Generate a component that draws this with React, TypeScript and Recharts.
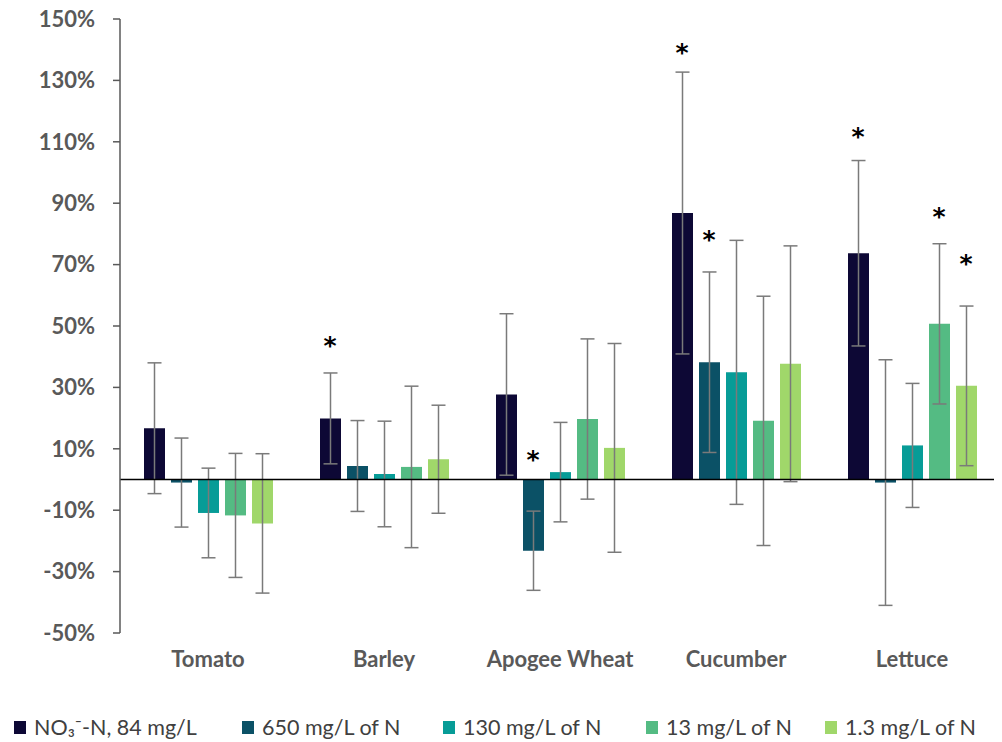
import React from 'react';
import {
  BarChart,
  Bar,
  XAxis,
  YAxis,
  ErrorBar,
  ReferenceLine,
  ReferenceDot,
  Legend,
} from 'recharts';

const CATEGORIES = ['Tomato', 'Barley', 'Apogee Wheat', 'Cucumber', 'Lettuce'];

const SERIES_NAMES = [
  'NO₃⁻-N, 84 mg/L',
  '650 mg/L of N',
  '130 mg/L of N',
  '13 mg/L of N',
  '1.3 mg/L of N',
];

const COLORS = ['#0d0835', '#0b5166', '#079c97', '#54bb83', '#a0d76a'];

// mean % change per series, in category order
const NO3_84 = [16.7, 19.9, 27.7, 86.8, 73.7];
const N_650 = [-1.0, 4.4, -23.2, 38.2, -1.0];
const N_130 = [-10.9, 1.8, 2.4, 34.9, 11.1];
const N_13 = [-11.7, 4.1, 19.7, 19.1, 50.7];
const N_1_3 = [-14.3, 6.6, 10.3, 37.7, 30.5];

// error bar half-widths
const ERR_NO3_84 = [21.3, 14.8, 26.3, 45.9, 30.2];
const ERR_650 = [14.5, 14.8, 12.9, 29.4, 40.0];
const ERR_130 = [14.6, 17.2, 16.2, 43.0, 20.2];
const ERR_13 = [20.2, 26.3, 26.1, 40.6, 26.1];
const ERR_1_3 = [22.7, 17.6, 34.0, 38.4, 26.0];

const Y_TICKS = [-50, -30, -10, 10, 30, 50, 70, 90, 110, 130, 150];

// significance markers: category, series index, height of the asterisk
const STAR_CATS = ['Barley', 'Apogee Wheat', 'Cucumber', 'Cucumber', 'Lettuce', 'Lettuce', 'Lettuce'];
const STAR_SERIES = [0, 1, 0, 1, 0, 3, 4];
const STAR_Y = [45.4, 8.3, 140.9, 79.9, 113.6, 87.5, 72.0];

const VALUES = [NO3_84, N_650, N_130, N_13, N_1_3];
const ERRORS = [ERR_NO3_84, ERR_650, ERR_130, ERR_13, ERR_1_3];

const data = CATEGORIES.map((name, i) => {
  const row: Record<string, string | number> = { name };
  VALUES.forEach((vals, s) => {
    row[`s${s}`] = vals[i];
    row[`e${s}`] = ERRORS[s][i];
  });
  return row;
});

const BAR_SIZE = 21;
const BAR_GAP = 6;
const FONT = 'Lato, "Open Sans", sans-serif';
const LEGEND_LEFT = [6, 234, 435, 638, 817]; // layout: where each legend item starts

// legend drawn in series order (recharts would sort it by name)
const renderLegend = () => (
  <div
    style={{
      position: 'relative',
      height: 30,
      fontFamily: FONT,
      fontSize: 21.5,
      color: '#404040',
      whiteSpace: 'nowrap',
    }}
  >
    {SERIES_NAMES.map((label, i) => (
      <div
        key={`leg-${i}`}
        style={{
          position: 'absolute',
          left: LEGEND_LEFT[i],
          top: 0,
          height: 30,
          display: 'flex',
          alignItems: 'center',
        }}
      >
        <span
          style={{
            display: 'inline-block',
            width: 12,
            height: 13,
            background: COLORS[i],
            marginRight: 8,
          }}
        />
        <span>{label}</span>
      </div>
    ))}
  </div>
);

const App = () => {
  return (
    <div style={{ fontFamily: FONT, marginTop: -8 }}>
      <BarChart
        width={994}
        height={742}
        data={data}
        margin={{ top: 19, right: 2, left: 0, bottom: 0 }}
        barSize={BAR_SIZE}
        barGap={BAR_GAP}
      >
        <XAxis
          dataKey="name"
          axisLine={false}
          tickLine={false}
          height={79}
          tickMargin={12}
          tick={{ fill: '#595959', fontSize: 22, fontWeight: 700, fontFamily: FONT }}
        />
        <YAxis
          width={112}
          domain={[-50, 150]}
          ticks={Y_TICKS}
          interval={0}
          tickFormatter={(v: number) => `${v}%`}
          axisLine={{ stroke: '#595959', strokeWidth: 1.5 }}
          tickLine={{ stroke: '#595959', strokeWidth: 1.5 }}
          tickSize={7}
          tickMargin={18}
          tick={{ fill: '#595959', fontSize: 22, fontWeight: 700, fontFamily: FONT }}
        />
        {VALUES.map((_, s) => (
          <Bar
            key={`bar-${s}`}
            dataKey={`s${s}`}
            name={SERIES_NAMES[s]}
            fill={COLORS[s]}
            isAnimationActive={false}
          >
            <ErrorBar
              dataKey={`e${s}`}
              direction="y"
              width={7}
              stroke="#7a7a7a"
              strokeWidth={1.5}
            />
          </Bar>
        ))}
        <ReferenceLine y={0} stroke="#000000" strokeWidth={1.5} />
        {STAR_Y.map((y, k) => {
          const offset = (STAR_SERIES[k] - 2) * (BAR_SIZE + BAR_GAP);
          return (
            <ReferenceDot
              key={`star-${k}`}
              x={STAR_CATS[k]}
              y={y}
              r={0}
              ifOverflow="visible"
              shape={(p: any) => (
                <text
                  x={p.cx + offset}
                  y={p.cy + 14}
                  textAnchor="middle"
                  fontSize={25}
                  fontWeight={700}
                  fontFamily='"DejaVu Sans", sans-serif'
                  fill="#000000"
                >
                  *
                </text>
              )}
            />
          );
        })}
        <Legend
          verticalAlign="bottom"
          height={30}
          content={renderLegend}
          wrapperStyle={{ left: 0, width: 994 }}
        />
      </BarChart>
    </div>
  );
};

export default App;
